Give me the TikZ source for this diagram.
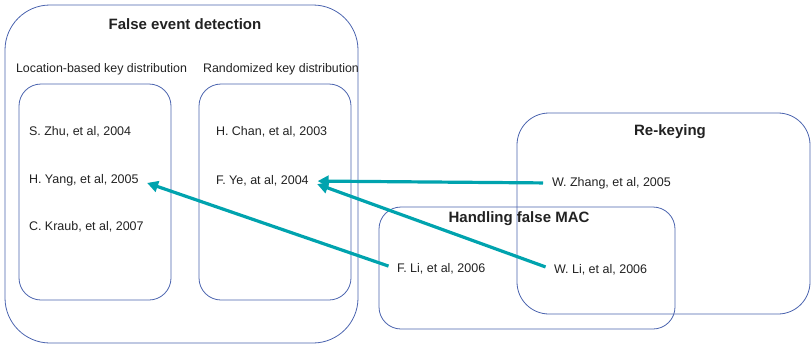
\documentclass[tikz,border=0pt]{standalone}
\usepackage{fontspec}
\setmainfont{Liberation Sans}
\usetikzlibrary{arrows.meta}
\definecolor{framecol}{HTML}{4A63AE}
\definecolor{linkcol}{HTML}{00A3AE}
\definecolor{txtcol}{HTML}{222222}
\tikzset{
  group/.style={draw=framecol, line width=0.8pt},
  entry/.style={anchor=west, inner sep=0pt, outer sep=0pt, font=\fontsize{12.5}{14}\selectfont, text=txtcol},
  caption/.style={inner sep=0pt, font=\fontsize{12.4}{14}\selectfont, text=txtcol},
  heading/.style={inner sep=0pt, font=\fontsize{15}{17}\selectfont\bfseries, text=txtcol},
  link/.style={draw=linkcol, line width=3.2pt, -{Triangle[length=11pt,width=11pt]}, shorten <=9pt, shorten >=9pt}
}
\begin{document}
\begin{tikzpicture}[x=1pt,y=-1pt]
\useasboundingbox (0,0) rectangle (811,346);
% group frames
\draw[group, rounded corners=45pt] (5,5) rectangle (358,343);
\draw[group, rounded corners=22pt] (19,84) rectangle (171,300);
\draw[group, rounded corners=22pt] (199,84) rectangle (351,300);
\draw[group, rounded corners=32pt] (517,113) rectangle (810,314);
\draw[group, rounded corners=22pt] (379,207) rectangle (675,329);
% headings and captions
\node[heading] (fed) at (185,24) {False event detection};
\node[caption] (loc) at (101.5,69) {Location-based key distribution};
\node[caption] (rnd) at (281,69) {Randomized key distribution};
\node[heading] (rek) at (670,132) {Re-keying};
\node[heading] (mac) at (519,219) {Handling false MAC};
% entries
\node[entry] (zhu) at (29,132) {S. Zhu, et al, 2004};
\node[entry] (yang) at (29,180) {H. Yang, et al, 2005};
\node[entry] (kraub) at (29,227) {C. Kraub, et al, 2007};
\node[entry] (chan) at (216,132) {H. Chan, et al, 2003};
\node[entry] (ye) at (216,181) {F. Ye, at al, 2004};
\node[entry] (zhang) at (552,183) {W. Zhang, et al, 2005};
\node[entry] (fli) at (397,269) {F. Li, et al, 2006};
\node[entry] (wli) at (554,270) {W. Li, et al, 2006};
% links
\draw[link] (zhang.west) -- (ye.east);
\draw[link] (wli.west) -- (ye.east);
\draw[link] (fli.west) -- (yang.east);
\end{tikzpicture}
\end{document}
